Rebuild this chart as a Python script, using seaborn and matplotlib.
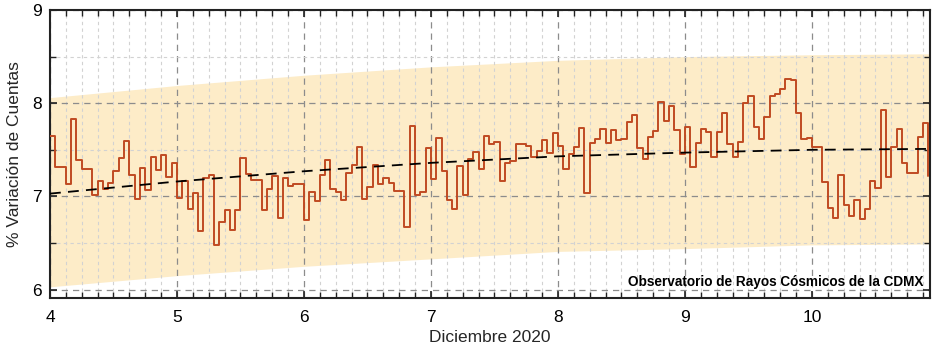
import numpy as np
import pandas as pd
import matplotlib
matplotlib.use("Agg")
import matplotlib.pyplot as plt
import seaborn as sns
from matplotlib.ticker import MultipleLocator

# Hourly values (% variation of counts), December 2020, one list per day
day4 = [7.65, 7.32, 7.32, 7.13, 7.83, 7.39, 7.29, 7.29, 7.01, 7.16, 7.08, 7.14,
        7.27, 7.41, 7.59, 7.23, 6.97, 7.30, 7.07, 7.42, 7.28, 7.44, 7.21, 7.36]
day5 = [6.98, 7.16, 6.87, 7.04, 6.63, 7.20, 7.23, 6.48, 6.73, 6.85, 6.64, 6.85,
        7.41, 7.24, 7.18, 7.18, 6.85, 7.08, 7.22, 6.77, 7.20, 7.11, 7.13, 7.13]
day6 = [6.75, 7.05, 6.95, 7.23, 7.39, 7.08, 7.05, 6.96, 7.25, 7.34, 7.53, 6.97,
        7.10, 7.34, 7.13, 7.20, 7.14, 7.06, 7.06, 6.67, 7.76, 7.01, 7.05, 7.52]
day7 = [7.19, 7.63, 7.27, 6.96, 6.87, 7.33, 7.02, 7.40, 7.48, 7.29, 7.65, 7.56,
        7.58, 7.16, 7.36, 7.38, 7.56, 7.56, 7.54, 7.42, 7.49, 7.61, 7.47, 7.68]
day8 = [7.54, 7.29, 7.46, 7.53, 7.73, 7.04, 7.57, 7.62, 7.72, 7.57, 7.71, 7.61,
        7.62, 7.80, 7.87, 7.52, 7.40, 7.64, 7.70, 8.01, 7.81, 7.97, 7.71, 7.46]
day9 = [7.74, 7.32, 7.57, 7.72, 7.69, 7.42, 7.69, 7.90, 7.56, 7.42, 7.58, 8.00,
        8.08, 7.75, 7.62, 7.85, 8.08, 8.10, 8.15, 8.26, 8.25, 7.90, 7.62, 7.63]
day10 = [7.53, 7.53, 7.15, 6.88, 6.77, 7.23, 6.91, 6.79, 6.96, 6.76, 6.86, 7.16,
         7.09, 7.93, 7.21, 7.53, 7.72, 7.36, 7.25, 7.25, 7.64, 7.79, 7.22]

first_day = 4
hours_per_day = 24

# Trend line and confidence band, read at each day
trend_days = [4, 5, 6, 7, 8, 9, 10, 10.95]
trend_vals = [7.03, 7.16, 7.27, 7.36, 7.43, 7.47, 7.50, 7.51]
band_upper = [8.06, 8.19, 8.30, 8.39, 8.46, 8.50, 8.52, 8.53]
band_lower = [6.03, 6.15, 6.25, 6.33, 6.41, 6.44, 6.48, 6.49]

x_ticks = [4, 5, 6, 7, 8, 9, 10]
y_ticks = [6, 7, 8, 9]

values = day4 + day5 + day6 + day7 + day8 + day9 + day10
df = pd.DataFrame({
    "dia": first_day + np.arange(len(values)) / hours_per_day,
    "variacion": values,
})

sns.set_theme(style="ticks")
plt.rcParams["font.family"] = ["Liberation Sans", "DejaVu Sans"]

fig = plt.figure(figsize=(9.35, 3.49), dpi=100)
ax = fig.add_axes([50 / 935, 51 / 349, 880 / 935, 288 / 349])

ax.fill_between(trend_days, band_lower, band_upper, color="#FDECC8",
                lw=0, zorder=0.3)

sns.lineplot(data=df, x="dia", y="variacion", drawstyle="steps-post",
             color="#C04A22", lw=1.4, ax=ax, zorder=3)
sns.lineplot(x=trend_days, y=trend_vals, color="black", lw=1.3,
             linestyle=(0, (6, 4)), ax=ax, zorder=4)

ax.set_xlim(4, 10.93)
ax.set_ylim(5.91, 9.0)
ax.set_xticks(x_ticks)
ax.set_yticks(y_ticks)
ax.xaxis.set_minor_locator(MultipleLocator(0.125))
ax.yaxis.set_minor_locator(MultipleLocator(0.5))

ax.set_axisbelow(True)
ax.grid(which="major", linestyle=(0, (5, 4)), color="#8c8c8c", lw=0.9)
ax.grid(which="minor", linestyle=(0, (3, 3)), color="#d2d2d2", lw=0.8)

ax.tick_params(which="both", direction="in", top=True, right=True,
               colors="#222222", labelcolor="black", labelsize=12.5)
ax.tick_params(which="major", length=5, width=1.2, pad=6)
ax.tick_params(axis="x", which="major", pad=9)
ax.tick_params(which="minor", length=4, width=1.0)
for s in ax.spines.values():
    s.set_linewidth(1.5)
    s.set_color("#222222")

ax.set_xlabel("Diciembre 2020", fontsize=12.5, labelpad=3)
ax.set_ylabel("% Variación de Cuentas", fontsize=12.5, labelpad=7)

ax.text(0.993, 0.04, "Observatorio de Rayos Cósmicos de la CDMX",
        transform=ax.transAxes, ha="right", va="baseline",
        fontsize=9.8, fontweight="bold", color="black", zorder=5)

fig.savefig("out.png", dpi=100)
